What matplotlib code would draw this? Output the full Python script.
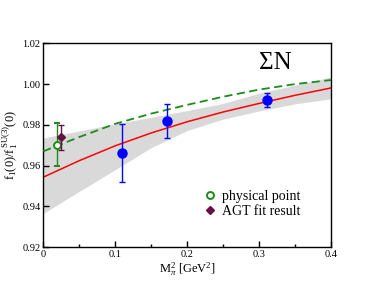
import matplotlib
matplotlib.use("Agg")
import matplotlib.pyplot as plt
from matplotlib.ticker import MultipleLocator
from matplotlib.lines import Line2D

plt.rcParams['font.family'] = ['Liberation Serif', 'DejaVu Serif']
plt.rcParams['mathtext.fontset'] = 'custom'
plt.rcParams['mathtext.rm'] = 'Liberation Serif'
plt.rcParams['mathtext.it'] = 'Liberation Serif:italic'

# lattice points
lat_x = [0.109, 0.1725, 0.311]
lat_y = [0.9660, 0.9818, 0.9921]
lat_err_lo = [0.0140, 0.0083, 0.0033]
lat_err_hi = [0.0142, 0.0086, 0.0034]

# physical point
phys_x = [0.0195]
phys_y = [0.9700]
phys_err_lo = [0.0102]
phys_err_hi = [0.0107]

# AGT fit result
agt_x = [0.0246]
agt_y = [0.9738]
agt_err_lo = [0.0063]
agt_err_hi = [0.0062]

# curves
curve_x = [0.0, 0.05, 0.1, 0.15, 0.2, 0.25, 0.3, 0.35, 0.4]
red_y = [0.9543, 0.9624, 0.9697, 0.9760, 0.9815, 0.9863, 0.9905, 0.9945, 0.9981]
green_y = [0.9670, 0.9740, 0.9805, 0.9855, 0.9898, 0.9938, 0.9973, 1.0000, 1.0020]
band_lo = [0.9365, 0.9473, 0.9580, 0.9688, 0.9772, 0.9828, 0.9868, 0.9903, 0.9928]
band_hi = [0.9735, 0.9770, 0.9805, 0.9837, 0.9870, 0.9905, 0.9955, 0.9995, 1.0035]

legend_labels = ['physical point', 'AGT fit result']

fig = plt.figure(figsize=(3.74, 2.89), dpi=100)
ax = fig.add_axes([0.1158, 0.1453, 0.7695, 0.7047])

ax.fill_between(curve_x, band_lo, band_hi, color='#d9d9d9', lw=0, zorder=1)
ax.plot(curve_x, red_y, color='#ff0000', lw=1.1, zorder=2)
ax.plot(curve_x, green_y, color='#1a8c1a', lw=1.3, ls=(0, (4.5, 2.5)), zorder=3)

ax.errorbar(lat_x, lat_y, yerr=[lat_err_lo, lat_err_hi], fmt='o', color='#0000ff',
            ms=6.5, capsize=2.3, elinewidth=1.0, capthick=1.0, zorder=5)
ax.errorbar(phys_x, phys_y, yerr=[phys_err_lo, phys_err_hi], fmt='o', color='#1a8c1a',
            mfc='white', mec='#1a8c1a', mew=1.4, ms=5, capsize=2.3, elinewidth=1.0,
            capthick=1.0, zorder=6)
ax.errorbar(agt_x, agt_y, yerr=[agt_err_lo, agt_err_hi], fmt='D', color='#661144',
            ms=4, capsize=2.3, elinewidth=1.0, capthick=1.0, zorder=7)

ax.set_xlim(0, 0.4)
ax.set_ylim(0.92, 1.02)
ax.xaxis.set_minor_locator(MultipleLocator(0.05))
ax.set_xticks([0, 0.1, 0.2, 0.3, 0.4])
ax.set_xticklabels(['0', '0.1', '0.2', '0.3', '0.4'])
ax.set_yticks([0.92, 0.94, 0.96, 0.98, 1.00, 1.02])
ax.set_yticklabels(['0.92', '0.94', '0.96', '0.98', '1.00', '1.02'])
ax.tick_params(which='major', direction='in', length=4, width=1, labelsize=7.5, pad=2)
ax.tick_params(which='minor', direction='in', length=2, width=1)
for s in ax.spines.values():
    s.set_linewidth(1.0)

ax.set_xlabel(r'M$_\pi^2$ [GeV$^2$]', fontsize=9, labelpad=1)
ax.set_ylabel(r'f$_1$(0)/f$_1^{\,\mathrm{SU(3)}}$(0)', fontsize=9, labelpad=2)

ax.text(0.323, 1.0105, 'ΣN', fontsize=18, ha='center', va='center')

handles = [
    Line2D([], [], marker='o', ls='none', mfc='white', mec='#1a8c1a', mew=1.4, ms=5),
    Line2D([], [], marker='D', ls='none', color='#661144', ms=4),
]
ax.legend(handles, legend_labels, loc='upper left', bbox_to_anchor=(0.555, 0.28),
          frameon=False, fontsize=10, handlelength=1.0, handletextpad=0.4,
          labelspacing=0.15, borderaxespad=0, borderpad=0)

fig.savefig('out.png', dpi=100)
